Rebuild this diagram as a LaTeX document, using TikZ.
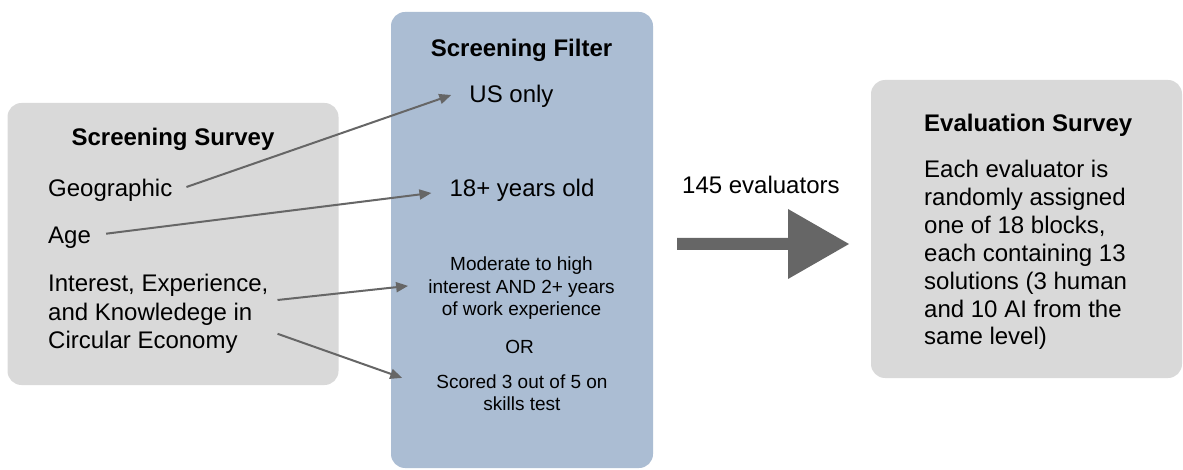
\documentclass[tikz,border=0pt]{standalone}
\usepackage{fontspec}
\setmainfont{Liberation Sans}
\usetikzlibrary{arrows.meta,calc}
\definecolor{boxgray}{HTML}{D9D9D9}
\definecolor{boxblue}{HTML}{ABBDD3}
\definecolor{linegray}{HTML}{666666}
\begin{document}
\begin{tikzpicture}[x=1pt,y=-1pt,
  panel/.style={rounded corners=14pt, inner sep=0pt, draw=none},
  big/.style={font=\fontsize{24}{28}\selectfont, inner sep=0pt},
  small/.style={font=\fontsize{19}{22.5}\selectfont, inner sep=0pt},
  ttl/.style={font=\fontsize{24}{28}\selectfont\bfseries, inner sep=0pt},
  conn/.style={draw=linegray, line width=2pt, -{Triangle[length=12pt,width=10pt]}},
  bigarrow/.style={fill=linegray, draw=none},
]
\useasboundingbox (0,0) rectangle (1183,470);

% panels
\node[panel, fill=boxgray, minimum width=331pt, minimum height=282pt] (ssbox) at (173,244) {};
\node[panel, fill=boxblue, minimum width=262pt, minimum height=456pt] (sfbox) at (522,240) {};
\node[panel, fill=boxgray, minimum width=311pt, minimum height=298pt] (esbox) at (1026.5,229) {};

% screening survey
\node[ttl, anchor=base] (sstitle) at (173,146) {Screening Survey};
\node[big, anchor=base west] (geo) at (48,197) {Geographic};
\node[big, anchor=base west] (age) at (48,243.7) {Age};
\node[big, anchor=base west] (int1) at (48,292) {Interest, Experience,};
\node[big, anchor=base west] (int2) at (48,320.3) {and Knowledege in};
\node[big, anchor=base west] (int3) at (48,348.6) {Circular Economy};

% screening filter
\node[ttl, anchor=base] (sftitle) at (521.5,57) {Screening Filter};
\node[big, anchor=base] (us) at (511.5,103) {US only};
\node[big, anchor=base] (y18) at (522,197) {18+ years old};
\node[small, anchor=base] (mod1) at (521.5,270.5) {Moderate to high};
\node[small, anchor=base] (mod2) at (521.5,293.5) {interest AND 2+ years};
\node[small, anchor=base] (mod3) at (521.5,315.5) {of work experience};
\node[small, anchor=base] (or) at (519.5,353) {OR};
\node[small, anchor=base] (sc1) at (522,388.5) {Scored 3 out of 5 on};
\node[small, anchor=base] (sc2) at (522,410.5) {skills test};

% evaluation survey
\node[ttl, anchor=base west] (estitle) at (924,132) {Evaluation Survey};
\node[big, anchor=base west] (es1) at (924,178) {Each evaluator is};
\node[big, anchor=base west] (es2) at (924,205.8) {randomly assigned};
\node[big, anchor=base west] (es3) at (924,233.6) {one of 18 blocks,};
\node[big, anchor=base west] (es4) at (924,261.4) {each containing 13};
\node[big, anchor=base west] (es5) at (924,289.2) {solutions (3 human};
\node[big, anchor=base west] (es6) at (924,317) {and 10 AI from the};
\node[big, anchor=base west] (es7) at (924,344.8) {same level)};

% big arrow and label
\node[big, anchor=base west] (n145) at (682,193.7) {145 evaluators};
\fill[bigarrow] (677,238) -- (788,238) -- (788,209) -- (849,244) -- (788,279) -- (788,250) -- (677,250) -- cycle;

% connectors
\draw[conn] ($(geo.base east)+(14,-10)$) -- ($(us.base west)+(-18,-8)$);
\draw[conn] ($(age.base east)+(15,-10)$) -- ($(y18.base west)+(-18,-4)$);
\draw[conn] ($(int1.base east)+(9,8)$) -- ($(mod2.base west)+(-20,-7.6)$);
\draw[conn] ($(int2.base east)+(25,13.5)$) -- ($(sc1.base west)+(-34,-10.6)$);
\end{tikzpicture}
\end{document}
